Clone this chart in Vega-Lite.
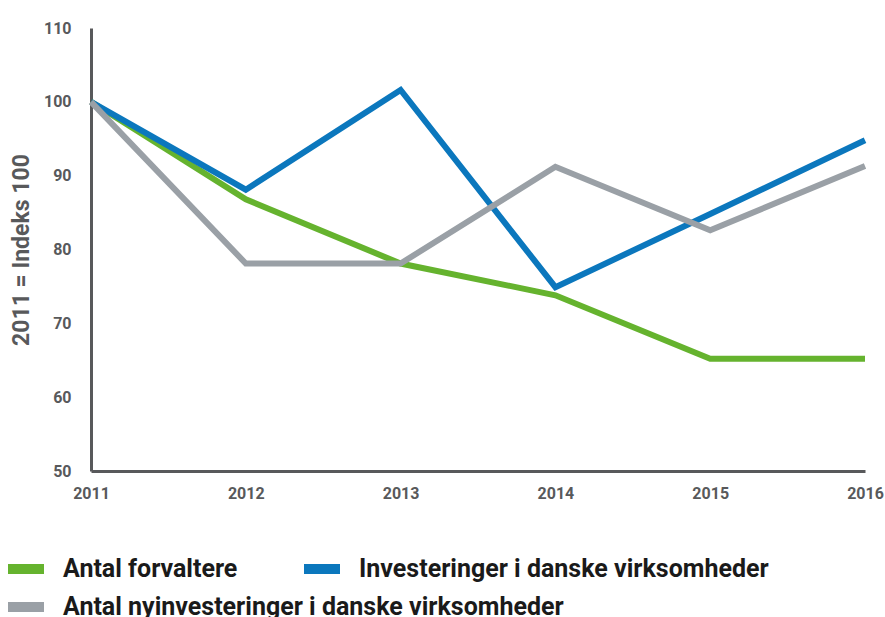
{
  "$schema": "https://vega.github.io/schema/vega-lite/v6.json",
  "autosize": "none",
  "width": 774,
  "height": 443,
  "padding": {"left": 91, "top": 28, "right": 20, "bottom": 146},
  "background": "white",
  "config": {
    "view": {"stroke": null},
    "legend": {
      "title": null,
      "orient": "none",
      "padding": 0,
      "symbolType": "stroke",
      "symbolSize": 1296,
      "symbolStrokeWidth": 10,
      "labelOffset": 14,
      "labelFont": "Roboto",
      "labelFontSize": 25,
      "labelFontWeight": "bold",
      "labelColor": "#1a1a1a",
      "labelLimit": 0
    }
  },
  "data": {
    "values": [
      {"year": 2011, "series": "Antal forvaltere", "value": 100},
      {"year": 2012, "series": "Antal forvaltere", "value": 86.8},
      {"year": 2013, "series": "Antal forvaltere", "value": 78.1},
      {"year": 2014, "series": "Antal forvaltere", "value": 73.8},
      {"year": 2015, "series": "Antal forvaltere", "value": 65.2},
      {"year": 2016, "series": "Antal forvaltere", "value": 65.2},
      {"year": 2011, "series": "Investeringer i danske virksomheder", "value": 100},
      {"year": 2012, "series": "Investeringer i danske virksomheder", "value": 88.1},
      {"year": 2013, "series": "Investeringer i danske virksomheder", "value": 101.6},
      {"year": 2014, "series": "Investeringer i danske virksomheder", "value": 74.9},
      {"year": 2015, "series": "Investeringer i danske virksomheder", "value": 84.8},
      {"year": 2016, "series": "Investeringer i danske virksomheder", "value": 94.8},
      {"year": 2011, "series": "Antal nyinvesteringer i danske virksomheder", "value": 100},
      {"year": 2012, "series": "Antal nyinvesteringer i danske virksomheder", "value": 78.1},
      {"year": 2013, "series": "Antal nyinvesteringer i danske virksomheder", "value": 78.1},
      {"year": 2014, "series": "Antal nyinvesteringer i danske virksomheder", "value": 91.2},
      {"year": 2015, "series": "Antal nyinvesteringer i danske virksomheder", "value": 82.6},
      {"year": 2016, "series": "Antal nyinvesteringer i danske virksomheder", "value": 91.3}
    ]
  },
  "encoding": {
    "x": {
      "field": "year",
      "type": "quantitative",
      "scale": {"domain": [2011, 2016], "nice": false, "zero": false},
      "axis": {
        "title": null,
        "values": [2011, 2012, 2013, 2014, 2015, 2016],
        "format": "d",
        "grid": false,
        "ticks": false,
        "labelFlush": false,
        "labelPadding": 14,
        "labelFont": "Roboto",
        "labelFontSize": 16,
        "labelFontWeight": "bold",
        "labelColor": "#58595b",
        "domainColor": "#58595b",
        "domainWidth": 3
      }
    },
    "y": {
      "field": "value",
      "type": "quantitative",
      "scale": {"domain": [50, 110], "nice": false, "zero": false},
      "axis": {
        "title": "2011 = Indeks 100",
        "values": [50, 60, 70, 80, 90, 100, 110],
        "grid": false,
        "ticks": false,
        "labelPadding": 20,
        "labelFont": "Roboto",
        "labelFontSize": 16,
        "labelFontWeight": "bold",
        "labelColor": "#58595b",
        "domainColor": "#58595b",
        "domainWidth": 3,
        "titleFont": "Roboto",
        "titleFontSize": 23,
        "titleFontWeight": "bold",
        "titleColor": "#58595b",
        "titlePadding": 10
      }
    }
  },
  "layer": [
    {
      "transform": [{"filter": "datum.series === 'Antal forvaltere'"}],
      "mark": {"type": "line", "strokeWidth": 6, "strokeJoin": "miter", "strokeCap": "butt"},
      "encoding": {
        "color": {
          "field": "series",
          "type": "nominal",
          "scale": {"range": ["#65b32e"]},
          "legend": {"legendX": -88, "legendY": 518}
        }
      }
    },
    {
      "transform": [{"filter": "datum.series === 'Investeringer i danske virksomheder'"}],
      "mark": {"type": "line", "strokeWidth": 6, "strokeJoin": "miter", "strokeCap": "butt"},
      "encoding": {
        "color": {
          "field": "series",
          "type": "nominal",
          "scale": {"range": ["#0b77bd"]},
          "legend": {"legendX": 208, "legendY": 518}
        }
      }
    },
    {
      "transform": [{"filter": "datum.series === 'Antal nyinvesteringer i danske virksomheder'"}],
      "mark": {"type": "line", "strokeWidth": 6, "strokeJoin": "miter", "strokeCap": "butt"},
      "encoding": {
        "color": {
          "field": "series",
          "type": "nominal",
          "scale": {"range": ["#9aa0a6"]},
          "legend": {"legendX": -88, "legendY": 556}
        }
      }
    }
  ],
  "resolve": {"scale": {"color": "independent"}, "legend": {"color": "independent"}}
}
